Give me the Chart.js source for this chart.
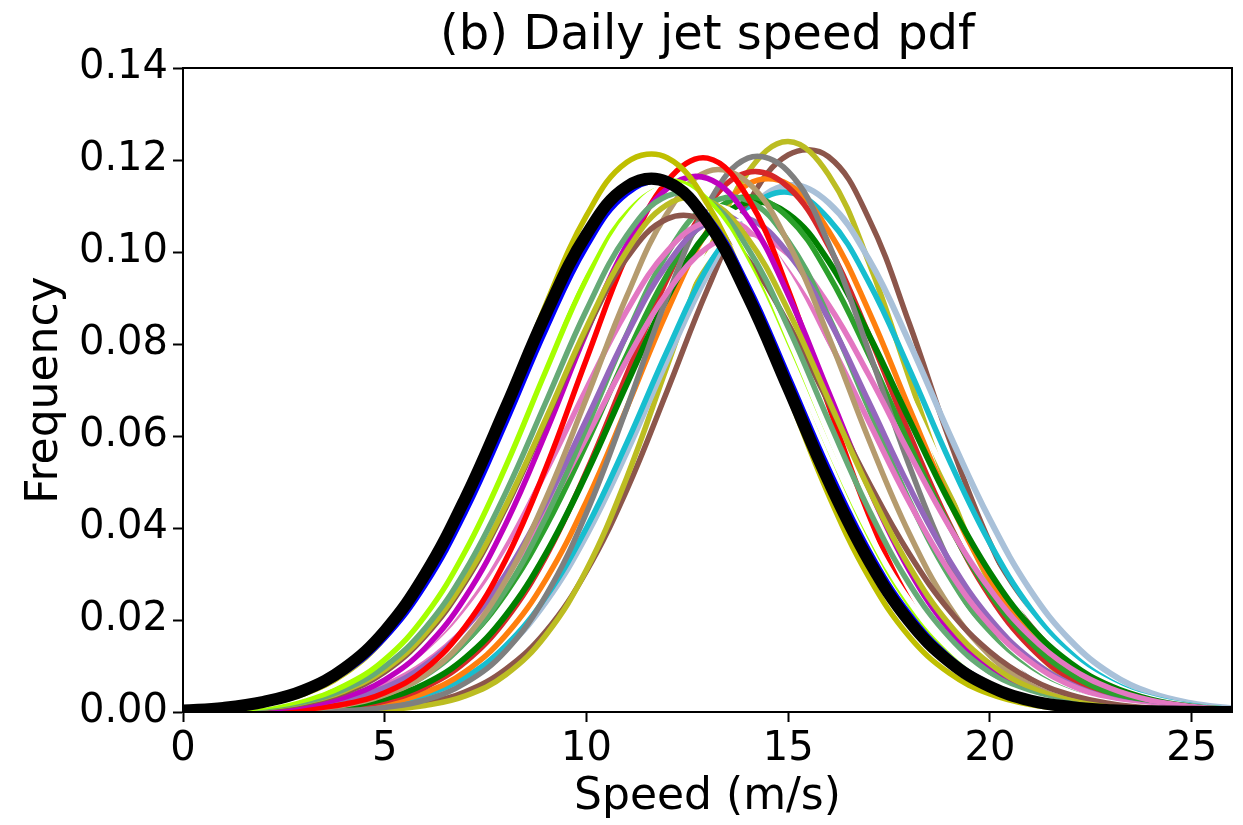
<!DOCTYPE html>
<html>
<head>
<meta charset="utf-8">
<script src="https://cdn.jsdelivr.net/npm/chart.js@4.4.0/dist/chart.umd.min.js"></script>
<style>
  html, body { margin: 0; padding: 0; background: #fff; }
  #wrap { width: 1243px; height: 825px; }
</style>
</head>
<body>
<div id="wrap"><canvas id="chart" width="1243" height="825"></canvas></div>
<script>
// speed grid (m/s) and axis ticks
const speeds = [0,1,2,3,4,5,6,7,8,9,10,11,12,13,14,15,16,17,18,19,20,21,22,23,24,25,26];
const xTicks = [0, 5, 10, 15, 20, 25];
const yTicks = [0, 0.02, 0.04, 0.06, 0.08, 0.10, 0.12, 0.14];

// pdf values, one array per curve
const pdfBrown2 = [0,.00001,.00003,.00009,.0003,.0008,.0019,.0044,.0093,.0176,.0306,.0483,.0698,.0919,.1105,.1211,.1207,.1072,.0845,.0591,.0368,.0203,.0099,.0043,.0017,.0006,.0002];
const pdfOlive2 = [0,0,.00001,.00004,.00015,.0005,.0014,.0035,.0081,.0168,.0309,.0510,.0752,.0993,.1173,.1240,.1168,.0977,.0726,.0479,.0281,.0146,.0067,.0028,.0010,.0003,.0001];
const pdfSteel = [.00001,.00003,.00008,.00024,.0006,.0016,.0035,.0073,.0138,.0240,.0384,.0565,.0765,.0951,.1088,.1145,.1107,.0984,.0804,.0604,.0418,.0265,.0155,.0083,.0041,.0019,.0008];
const pdfCyan = [.00001,.00003,.00008,.00025,.0007,.0016,.0037,.0076,.0144,.0251,.0400,.0585,.0785,.0967,.1091,.1130,.1072,.0934,.0746,.0546,.0367,.0226,.0128,.0066,.0031,.0014,.0005];
const pdfWhite3 = [.00002,.00006,.00017,.00045,.0011,.0025,.0054,.0104,.0186,.0306,.0463,.0648,.0835,.0991,.1084,.1093,.1015,.0870,.0686,.0499,.0335,.0207,.0118,.0062,.0030,.0013,.0005];
const pdfOrange = [.00001,.00003,.00009,.00027,.0007,.0018,.0042,.0088,.0167,.0289,.0458,.0661,.0871,.1046,.1147,.1147,.1046,.0871,.0661,.0458,.0289,.0167,.0088,.0042,.0018,.0007,.00027];
const pdfTabRed = [.00001,.00004,.00013,.0004,.0010,.0024,.0054,.0109,.0201,.0339,.0523,.0734,.0941,.1100,.1173,.1141,.1013,.0820,.0605,.0408,.0251,.0141,.0072,.0034,.0014,.0006,.0002];
const pdfDarkGreen = [.00002,.00006,.00018,.0005,.0012,.0029,.0061,.0118,.0210,.0345,.0518,.0713,.0900,.1043,.1108,.1083,.0980,.0820,.0636,.0456,.0303,.0186,.0106,.0056,.0027,.0012,.0005];
const pdfGreen = [.00004,.00011,.0003,.0008,.0019,.0041,.0082,.0152,.0258,.0404,.0583,.0776,.0951,.1075,.1120,.1075,.0951,.0776,.0583,.0404,.0258,.0152,.0082,.0041,.0019,.0008,.0003];
const pdfGray = [0,.00001,.00003,.0001,.0003,.0010,.0026,.0063,.0133,.0254,.0433,.0661,.0902,.1102,.1204,.1175,.1019,.0784,.0536,.0325,.0175,.0084,.0036,.0013,.00045,.00013,.00004];
const pdfPink2 = [.00009,.00024,.0006,.0014,.0029,.0058,.0107,.0183,.0292,.0433,.0597,.0765,.0912,.1010,.1040,.0995,.0885,.0732,.0563,.0402,.0267,.0165,.0095,.0051,.0025,.0012,.0005];
const pdfSeaGreen2 = [.00002,.00008,.00023,.0006,.0016,.0038,.0079,.0152,.0265,.0424,.0618,.0821,.0996,.1102,.1112,.1024,.0860,.0659,.0460,.0294,.0171,.0091,.0044,.0019,.0008,.0003,.0001];
const pdfPurple = [.00006,.00017,.00044,.0011,.0025,.0053,.0102,.0183,.0300,.0455,.0636,.0820,.0973,.1064,.1073,.0997,.0854,.0674,.0490,.0329,.0203,.0116,.0061,.0029,.0013,.0005,.0002];
const pdfPink = [.00012,.0003,.0008,.0018,.0038,.0075,.0137,.0231,.0362,.0524,.0703,.0872,.1002,.1066,.1050,.0957,.0808,.0631,.0456,.0305,.0189,.0109,.0058,.0028,.0013,.0005,.0002];
const pdfWhite2 = [.0001,.00028,.0007,.0017,.0037,.0076,.0140,.0241,.0380,.0554,.0743,.0919,.1047,.1100,.1064,.0949,.0780,.0591,.0413,.0266,.0158,.0086,.0043,.0020,.0009,.0003,.00012];
const pdfTan = [.00002,.00006,.0002,.0006,.0015,.0037,.0080,.0160,.0286,.0465,.0682,.0904,.1084,.1175,.1151,.1020,.0817,.0592,.0388,.0229,.0123,.0059,.0026,.0010,.0004,.00012,.00003];
const pdfRed = [.00002,.00006,.0002,.0006,.0017,.0042,.0093,.0186,.0331,.0532,.0767,.0993,.1154,.1204,.1118,.0918,.0667,.0428,.0243,.0122,.0054,.0021,.0007,.0002,.00006,.00002,0];
const pdfMagenta = [.00006,.00018,.0005,.0014,.0032,.0070,.0139,.0250,.0409,.0609,.0825,.1016,.1138,.1160,.1075,.0907,.0696,.0486,.0308,.0178,.0094,.0045,.0019,.00077,.00028,.00009,.00003];
const pdfBrown = [.00009,.00028,.00075,.0019,.0042,.0087,.0165,.0283,.0444,.0635,.0829,.0987,.1072,.1066,.0984,.0844,.0673,.0499,.0344,.0220,.0131,.0072,.0037,.0018,.0008,.00033,.00013];
const pdfOlive = [.00012,.00033,.0009,.0021,.0046,.0092,.0170,.0289,.0449,.0639,.0836,.1002,.1103,.1112,.1029,.0873,.0679,.0485,.0317,.0190,.0105,.0053,.0025,.0010,.0004,.00015,.00005];
const pdfSeaGreen = [.00012,.00035,.0009,.0022,.0049,.0099,.0182,.0308,.0477,.0675,.0874,.1036,.1122,.1112,.1008,.0836,.0634,.0440,.0279,.0162,.0086,.0042,.0019,.00076,.00028,.0001,.00003];
const pdfLime = [.00014,.0004,.0011,.0026,.0057,.0114,.0209,.0350,.0534,.0743,.0943,.1093,.1154,.1113,.0979,.0785,.0575,.0384,.0234,.0130,.0066,.0030,.0013,.0005,.00017,.00006,.00002];
const pdfWhite1 = [.00023,.0006,.0015,.0035,.0072,.0138,.0242,.0390,.0576,.0779,.0967,.1101,.1150,.1101,.0967,.0779,.0576,.0390,.0242,.0138,.0072,.0035,.0015,.0006,.00023,.00008,.00003];
const pdfYellow = [.00023,.00066,.00168,.00391,.0083,.0161,.0283,.0455,.0665,.0887,.1079,.1195,.1205,.1104,.0917,.0691,.0472,.0293,.0164,.0084,.0039,.0016,.0006,.0002,.00006,.00002,0];
const pdfBlue = [.0003,.00077,.0019,.0042,.0086,.0161,.0276,.0435,.0629,.0833,.1012,.1127,.1152,.1079,.0928,.0731,.0529,.0351,.0213,.0119,.0061,.0029,.0012,.0005,.00017,.00006,.00002];
const pdfBlack = [.00035,.0009,.0022,.0047,.0095,.0176,.0299,.0465,.0662,.0866,.1038,.1142,.1152,.1066,.0904,.0704,.0502,.0329,.0197,.0109,.0055,.0025,.0011,.0004,.00015,.00005,.00001];

// plotting order, bottom first (black ends up on top)
const curves = [
    [pdfBrown2, '#8c564b', 5.5],
    [pdfOlive2, '#bcbd22', 5.5],
    [pdfSteel, '#a9c1d9', 6],
    [pdfCyan, '#17becf', 5.5],
    [pdfWhite3, '#ffffff', 5.5],
    [pdfOrange, '#ff7f0e', 5.5],
    [pdfTabRed, '#d62728', 5.5],
    [pdfDarkGreen, '#008000', 6],
    [pdfGreen, '#2ca02c', 5.5],
    [pdfGray, '#7f7f7f', 5.5],
    [pdfPink2, '#e377c2', 5.5],
    [pdfSeaGreen2, '#5aab68', 5.5],
    [pdfPurple, '#9467bd', 5.5],
    [pdfPink, '#e377c2', 5.5],
    [pdfWhite2, '#ffffff', 5.5],
    [pdfTan, '#b59b6e', 5.5],
    [pdfRed, '#ff0000', 5.5],
    [pdfMagenta, '#bf00bf', 5.5],
    [pdfBrown, '#8c564b', 5.5],
    [pdfOlive, '#bcbd22', 5.5],
    [pdfSeaGreen, '#66aa77', 5.5],
    [pdfLime, '#a5ff00', 5.5],
    [pdfWhite1, '#ffffff', 5.5],
    [pdfYellow, '#bfbf00', 5.5],
    [pdfBlue, '#0000ff', 5.5],
    [pdfBlack, '#000000', 12]
];

const FONT = 'DejaVu Sans';

// Chart.js paints dataset 0 last, so reverse to keep black on top
const datasets = curves.slice().reverse().map(([values, color, width]) => ({
    data: values.map((v, i) => ({ x: speeds[i], y: v })),
    borderColor: color,
    borderWidth: width,
    pointRadius: 0,
    tension: 0.4,
    fill: false,
    clip: 1
}));

// matplotlib-style box around the axes
const frame = {
    id: 'frame',
    afterDatasetsDraw(chart) {
        const { ctx, chartArea: a } = chart;
        ctx.save();
        ctx.strokeStyle = '#000';
        ctx.lineWidth = 2;
        ctx.strokeRect(a.left, a.top, a.right - a.left, a.bottom - a.top);
        ctx.restore();
    }
};

new Chart(document.getElementById('chart'), {
    type: 'line',
    data: { datasets },
    plugins: [frame],
    options: {
        responsive: false,
        animation: false,
        devicePixelRatio: 1,
        layout: { padding: { left: 0, right: 11, top: 0, bottom: 0 } },
        plugins: {
            legend: { display: false },
            tooltip: { enabled: false },
            title: {
                display: true,
                text: '(b) Daily jet speed pdf',
                color: '#000',
                fullSize: false,
                font: { family: FONT, size: 48, weight: 'normal' },
                padding: { top: 8, bottom: 2.4 }
            }
        },
        scales: {
            x: {
                type: 'linear',
                min: 0,
                max: 26,
                afterBuildTicks: (s) => { s.ticks = xTicks.map(v => ({ value: v })); },
                afterFit: (s) => { s.height = 113; },
                ticks: {
                    color: '#000',
                    font: { family: FONT, size: 40 },
                    padding: 4,
                    maxRotation: 0,
                    callback: (v) => String(v)
                },
                grid: { display: true, drawOnChartArea: false, drawTicks: true, tickLength: 10, tickWidth: 2, tickColor: '#000' },
                border: { display: true, color: '#000', width: 2 },
                title: {
                    display: true,
                    text: 'Speed (m/s)',
                    color: '#000',
                    font: { family: FONT, size: 44 },
                    padding: { top: 0, bottom: 1 }
                }
            },
            y: {
                min: 0,
                max: 0.14,
                afterBuildTicks: (s) => { s.ticks = yTicks.map(v => ({ value: v })); },
                afterFit: (s) => { s.width = 183; },
                ticks: {
                    color: '#000',
                    font: { family: FONT, size: 40 },
                    padding: 5,
                    callback: (v) => v.toFixed(2)
                },
                grid: { display: true, drawOnChartArea: false, drawTicks: true, tickLength: 10, tickWidth: 2, tickColor: '#000' },
                border: { display: true, color: '#000', width: 2 },
                title: {
                    display: true,
                    text: 'Frequency',
                    color: '#000',
                    font: { family: FONT, size: 44 },
                    padding: { top: 19, bottom: 0 }
                }
            }
        }
    }
});
</script>
</body>
</html>
